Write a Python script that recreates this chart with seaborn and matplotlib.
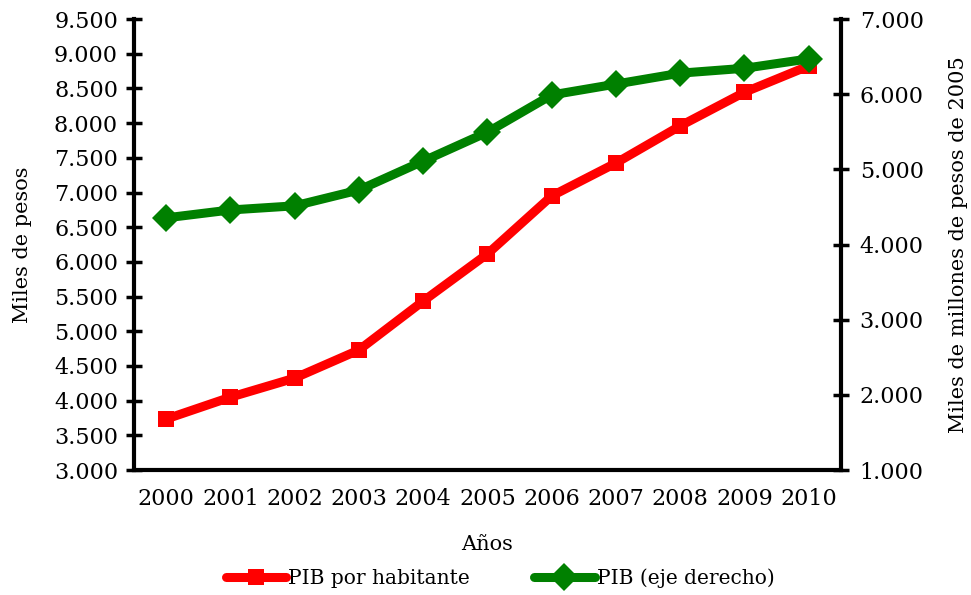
import matplotlib
matplotlib.use("Agg")
import matplotlib.pyplot as plt
import pandas as pd
import seaborn as sns
from matplotlib.lines import Line2D

years = ["2000", "2001", "2002", "2003", "2004", "2005",
         "2006", "2007", "2008", "2009", "2010"]
pib_hab = [3735, 4050, 4325, 4730, 5435, 6115, 6950, 7425, 7960, 8445, 8825]
pib_total = [4355, 4460, 4515, 4725, 5110, 5495, 5990, 6135, 6280, 6345, 6470]

df = pd.DataFrame({"pos": range(len(years)), "year": years,
                   "hab": pib_hab, "total": pib_total})

sns.set_style("white")
plt.rcParams["font.family"] = ["DejaVu Serif"]
plt.rcParams["font.size"] = 16
plt.rcParams["text.color"] = "black"
plt.rcParams["axes.labelcolor"] = "black"
plt.rcParams["xtick.color"] = "black"
plt.rcParams["ytick.color"] = "black"

fig = plt.figure(figsize=(9.71, 5.95), dpi=100)
ax = fig.add_axes([0.138, 0.21, 0.728, 0.758])
ax2 = ax.twinx()

sns.lineplot(df, x="pos", y="hab", ax=ax, color="#ff0000", lw=6.5,
             marker="s", markersize=11, markeredgewidth=0, legend=False)
sns.lineplot(df, x="pos", y="total", ax=ax2, color="#008000", lw=6.5,
             marker="D", markersize=14, markeredgewidth=0, legend=False)


def fmt(v, pos=None):
    return f"{v:,.0f}".replace(",", ".")


ax.set_ylim(3000, 9500)
ax.set_yticks(range(3000, 9501, 500))
ax.yaxis.set_major_formatter(fmt)
ax2.set_ylim(1000, 7000)
ax2.set_yticks(range(1000, 7001, 1000))
ax2.yaxis.set_major_formatter(fmt)

ax.set_xlim(-0.5, len(years) - 0.5)
ax.set_xticks([i - 0.5 for i in range(len(years) + 1)])
ax.set_xticklabels([])
ax.set_xticks(range(len(years)), minor=True)
ax.set_xticklabels(years, minor=True)
ax.tick_params(axis="x", which="minor", length=0, pad=13, labelsize=16)
ax.tick_params(axis="x", which="major", direction="inout", length=12, width=2.5)
ax.tick_params(axis="y", direction="inout", length=11, width=2.5, pad=6, labelsize=16)
ax2.tick_params(axis="y", direction="inout", length=11, width=2.5, pad=8, labelsize=16)

for a in (ax, ax2):
    for s in a.spines.values():
        s.set_visible(False)
ax.spines["left"].set_visible(True)
ax.spines["bottom"].set_visible(True)
ax2.spines["right"].set_visible(True)
for s in (ax.spines["left"], ax.spines["bottom"], ax2.spines["right"]):
    s.set_linewidth(3)
    s.set_color("black")

ax.set_ylabel("Miles de pesos", fontsize=15, labelpad=16)
ax2.set_ylabel("Miles de millones de pesos de 2005", fontsize=15, labelpad=18)
ax.set_xlabel("Años", fontsize=15, labelpad=18)

handles = [
    Line2D([0], [0], color="#ff0000", lw=6.5, marker="s", markersize=11, markeredgewidth=0),
    Line2D([0], [0], color="#008000", lw=6.5, marker="D", markersize=14, markeredgewidth=0),
]
fig.legend(handles, ["PIB por habitante", "PIB (eje derecho)"], loc="center",
           bbox_to_anchor=(0.515, 0.028), ncol=2, frameon=False, fontsize=14.5,
           handlelength=3, handletextpad=0.1, columnspacing=3.2)

fig.savefig("out.png", dpi=100)
